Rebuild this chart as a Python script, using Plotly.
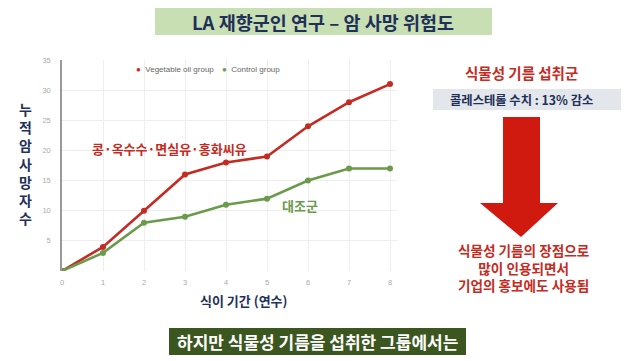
import plotly.graph_objects as go

years = [0, 1, 2, 3, 4, 5, 6, 7, 8]
veg_oil = [0, 4, 10, 16, 18, 19, 24, 28, 31]
control = [0, 3, 8, 9, 11, 12, 15, 17, 17]
y_ticks = [5, 10, 15, 20, 25, 30, 35]

RED = "#c42b23"
GREEN = "#6b9a4b"
NAVY = "#1f3158"
FONT = "Noto Sans CJK KR"

OFF = 8  # page body margin compensation
W, H = 640 - OFF, 361 - OFF
L, R, T, B = 62 - OFF, 397 - OFF, 60 - OFF, 271 - OFF


def px(x):
    return (x - OFF - L) / (R - L)


def py(y):
    return (B - (y - OFF)) / (B - T)


fig = go.Figure()
fig.add_trace(go.Scatter(x=years, y=veg_oil, mode="lines+markers", name="Vegetable oil group",
                         line=dict(color=RED, width=2.6), marker=dict(color=RED, size=6)))
fig.add_trace(go.Scatter(x=years, y=control, mode="lines+markers", name="Control group",
                         line=dict(color=GREEN, width=2.6), marker=dict(color=GREEN, size=6)))

shapes = []
annotations = []

# title box
shapes.append(dict(type="rect", xref="paper", yref="paper", x0=px(155), x1=px(492), y0=py(8), y1=py(35),
                   fillcolor="#c8dfb3", line=dict(width=0), layer="below"))
annotations.append(dict(xref="paper", yref="paper", x=px(323), y=py(21.5), text="<b>LA 재향군인 연구 – 암 사망 위험도</b>",
                        showarrow=False, font=dict(family=FONT, size=18.5, color=NAVY), xanchor="center", yanchor="middle"))

# legend
annotations.append(dict(xref="paper", yref="paper", x=px(134), y=py(69), text="<span style='color:%s'>●</span>  Vegetable oil group" % RED,
                        showarrow=False, font=dict(family="Liberation Sans", size=8, color="#666666"), xanchor="left", yanchor="middle"))
annotations.append(dict(xref="paper", yref="paper", x=px(220), y=py(69), text="<span style='color:%s'>●</span>  Control group" % GREEN,
                        showarrow=False, font=dict(family="Liberation Sans", size=8, color="#666666"), xanchor="left", yanchor="middle"))

# y-axis title vertical
annotations.append(dict(xref="paper", yref="paper", x=px(25), y=py(163), text="<b>" + "<br>".join("누적암사망자수") + "</b>",
                        showarrow=False, font=dict(family=FONT, size=14, color=NAVY), xanchor="center", yanchor="middle",
                        align="center"))

# x-axis title
annotations.append(dict(xref="paper", yref="paper", x=px(244), y=py(300), text="<b>식이 기간 (연수)</b>",
                        showarrow=False, font=dict(family=FONT, size=13, color=NAVY), xanchor="center", yanchor="middle"))

# series labels
annotations.append(dict(xref="paper", yref="paper", x=px(169), y=py(148), text="<b>콩·옥수수·면실유·홍화씨유</b>",
                        showarrow=False, font=dict(family=FONT, size=13, color=RED), xanchor="center", yanchor="middle"))
annotations.append(dict(xref="paper", yref="paper", x=px(300), y=py(205), text="<b>대조군</b>",
                        showarrow=False, font=dict(family=FONT, size=13, color=GREEN), xanchor="center", yanchor="middle"))

# right panel
annotations.append(dict(xref="paper", yref="paper", x=px(521), y=py(72), text="<b>식물성 기름 섭취군</b>",
                        showarrow=False, font=dict(family=FONT, size=14.5, color=RED), xanchor="center", yanchor="middle"))
shapes.append(dict(type="rect", xref="paper", yref="paper", x0=px(433), x1=px(621), y0=py(89), y1=py(110),
                   fillcolor="#e3e6ea", line=dict(width=0), layer="below"))
annotations.append(dict(xref="paper", yref="paper", x=px(521), y=py(99.5), text="<b>콜레스테롤 수치 : 13% 감소</b>",
                        showarrow=False, font=dict(family=FONT, size=12.3, color=NAVY), xanchor="center", yanchor="middle"))

# arrow
pts = [(503, 117), (540, 117), (540, 203), (558, 203), (521, 237), (480, 203), (503, 203)]
path = "M " + " L ".join("%f,%f" % (px(x), py(y)) for x, y in pts) + " Z"
shapes.append(dict(type="path", xref="paper", yref="paper", path=path, fillcolor="#d01a10", line=dict(width=0)))

annotations.append(dict(xref="paper", yref="paper", x=px(523), y=py(267),
                        text="<b>식물성 기름의 장점으로<br>많이 인용되면서<br>기업의 홍보에도 사용됨</b>",
                        showarrow=False, font=dict(family=FONT, size=13.6, color=RED), xanchor="center", yanchor="middle",
                        align="center"))

# subtitle box
shapes.append(dict(type="rect", xref="paper", yref="paper", x0=px(169), x1=px(466), y0=py(328), y1=py(355),
                   fillcolor="#3c5620", line=dict(width=0), layer="below"))
annotations.append(dict(xref="paper", yref="paper", x=px(317.5), y=py(341.5), text="<b>하지만 식물성 기름을 섭취한 그룹에서는</b>",
                        showarrow=False, font=dict(family=FONT, size=17, color="white"), xanchor="center", yanchor="middle"))

fig.update_layout(
    width=W, height=H,
    margin=dict(l=L, r=W - R, t=T, b=H - B, pad=0),
    paper_bgcolor="white", plot_bgcolor="white",
    showlegend=False,
    shapes=shapes, annotations=annotations,
    hovermode=False,
    xaxis=dict(range=[0, 8 * (R - L) / 328], tickvals=years, ticktext=[str(v) for v in years],
               showgrid=True, gridcolor="#eeeeee", gridwidth=1, zeroline=False, showline=False,
               tickfont=dict(family="Liberation Sans", size=7.5, color="#aaaaaa"), ticks="", ticklen=0),
    yaxis=dict(range=[0, 35], tickvals=y_ticks, ticktext=[str(v) for v in y_ticks],
               showgrid=True, gridcolor="#eeeeee", gridwidth=1, zeroline=False,
               showline=True, linecolor="#999999", linewidth=1.5,
               tickfont=dict(family="Liberation Sans", size=7.5, color="#aaaaaa"), ticks="", ticklen=0),
)
fig.update_xaxes(ticklabelstandoff=5)
fig.update_yaxes(ticklabelstandoff=8)

fig.write_html("out.html")
